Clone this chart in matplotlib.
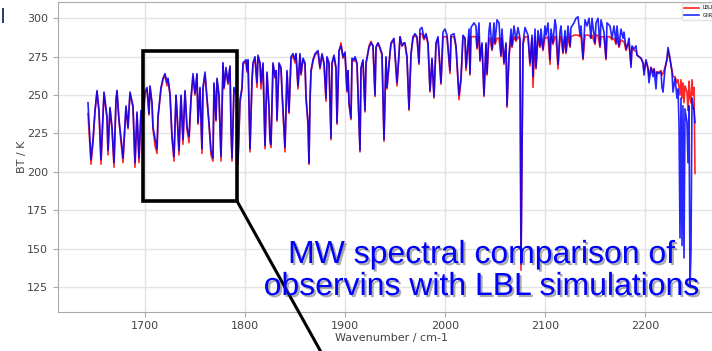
import matplotlib
matplotlib.use("Agg")
import matplotlib.pyplot as plt
import matplotlib.patheffects as pe
from matplotlib.patches import Rectangle
from matplotlib.lines import Line2D

# wavenumber grid (cm-1) and brightness temperatures (K)
wavenumber = [
    1643, 1646, 1648, 1650, 1652, 1654, 1656, 1659, 1662, 1663,
    1665, 1667, 1669, 1671, 1672, 1674, 1677, 1678, 1681, 1683,
    1685, 1688, 1690, 1692, 1694, 1696, 1698, 1700, 1702, 1704,
    1705, 1707, 1708, 1710, 1712, 1713, 1716, 1718, 1720, 1722,
    1723, 1725, 1727, 1729, 1731, 1732, 1734, 1736, 1738, 1740,
    1742, 1744, 1746, 1748, 1750, 1752, 1753, 1755, 1757, 1758,
    1760, 1762, 1764, 1766, 1768, 1769, 1771, 1772, 1774, 1776,
    1778, 1779, 1781, 1783, 1785, 1786, 1787, 1789, 1792, 1793,
    1795, 1797, 1798, 1801, 1802, 1803, 1805, 1807, 1808, 1810,
    1812, 1813, 1815, 1816, 1818, 1820, 1822, 1824, 1825, 1826,
    1828, 1830, 1831, 1832, 1834, 1836, 1837, 1840, 1842, 1844,
    1846, 1848, 1850, 1851, 1853, 1855, 1856, 1858, 1860, 1861,
    1863, 1864, 1865, 1866, 1868, 1870, 1873, 1875, 1877, 1879,
    1881, 1882, 1884, 1886, 1887, 1889, 1891, 1892, 1894, 1896,
    1898, 1900, 1902, 1903, 1904, 1906, 1907, 1909, 1910, 1912,
    1915, 1916, 1918, 1920, 1921, 1924, 1926, 1928, 1930, 1931,
    1933, 1935, 1937, 1939, 1941, 1942, 1945, 1946, 1949, 1950,
    1952, 1954, 1955, 1957, 1959, 1960, 1962, 1964, 1966, 1968,
    1970, 1972, 1974, 1975, 1977, 1979, 1981, 1983, 1985, 1987,
    1989, 1991, 1993, 1996, 1998, 2000, 2002, 2005, 2006, 2009,
    2011, 2014, 2016, 2018, 2020, 2021, 2024, 2025, 2026, 2029,
    2031, 2032, 2034, 2035, 2037, 2039, 2041, 2042, 2044, 2045,
    2047, 2049, 2050, 2052, 2054, 2056, 2057, 2059, 2061, 2062,
    2064, 2066, 2067, 2069, 2071, 2073, 2075, 2076, 2078, 2080,
    2083, 2085, 2087, 2088, 2090, 2091, 2093, 2095, 2096, 2098,
    2100, 2101, 2103, 2105, 2106, 2108, 2110, 2111, 2113, 2115,
    2116, 2118, 2120, 2121, 2123, 2125, 2126, 2129, 2131, 2133,
    2135, 2136, 2138, 2140, 2142, 2144, 2146, 2147, 2150, 2151,
    2153, 2155, 2156, 2159, 2161, 2162, 2165, 2167, 2169, 2171,
    2172, 2174, 2176, 2178, 2179, 2181, 2183, 2184, 2186, 2187,
    2189, 2191, 2192, 2194, 2196, 2198, 2199, 2201, 2203, 2204,
    2206, 2208, 2209, 2211, 2212, 2214, 2216, 2217, 2218, 2220,
    2222, 2223, 2225, 2227, 2228, 2230, 2232, 2233, 2234, 2235,
    2236, 2237, 2238, 2239, 2240, 2242, 2243, 2244, 2245, 2246,
    2247, 2248, 2249, 2250,
]

bt_giirs = [
    245, 208, 221, 240, 253, 240, 208, 252, 236, 214,
    242, 229, 206, 247, 253, 234, 216, 209, 243, 229,
    252, 243, 206, 239, 209, 240, 235, 252, 255, 238,
    256, 245, 229, 222, 215, 236, 255, 261, 264, 258,
    261, 251, 223, 210, 250, 239, 214, 250, 221, 253,
    229, 223, 248, 264, 251, 264, 232, 255, 215, 255,
    265, 248, 232, 214, 209, 258, 234, 261, 250, 210,
    271, 255, 268, 258, 269, 229, 209, 255, 250, 207,
    247, 255, 271, 273, 266, 273, 215, 260, 271, 275,
    258, 276, 271, 258, 271, 217, 265, 242, 221, 218,
    271, 262, 266, 234, 271, 268, 253, 216, 266, 239,
    275, 277, 273, 277, 256, 277, 264, 274, 271, 249,
    232, 206, 247, 266, 273, 277, 279, 268, 277, 271,
    248, 275, 271, 222, 271, 276, 268, 232, 279, 282,
    275, 278, 253, 266, 245, 235, 274, 273, 275, 271,
    214, 268, 273, 240, 271, 281, 284, 282, 250, 281,
    284, 281, 277, 221, 275, 255, 278, 284, 287, 277,
    258, 277, 288, 282, 284, 284, 275, 241, 277, 288,
    290, 288, 271, 293, 294, 287, 290, 284, 253, 274,
    249, 284, 288, 258, 291, 293, 289, 266, 289, 290,
    282, 250, 261, 289, 287, 268, 293, 264, 294, 297,
    295, 281, 297, 273, 284, 250, 284, 264, 292, 297,
    280, 297, 284, 299, 297, 276, 293, 271, 284, 243,
    276, 293, 282, 295, 286, 294, 287, 140, 284, 294,
    289, 271, 289, 262, 293, 268, 292, 282, 293, 280,
    295, 289, 297, 273, 293, 284, 299, 295, 270, 291,
    295, 278, 292, 278, 295, 282, 294, 297, 300, 301,
    289, 295, 274, 299, 295, 300, 287, 300, 284, 297,
    300, 282, 299, 291, 274, 297, 295, 287, 295, 284,
    295, 282, 293, 287, 291, 280, 284, 287, 268, 282,
    280, 282, 276, 275, 274, 271, 263, 273, 267, 258,
    268, 262, 267, 254, 265, 264, 265, 255, 252, 267,
    274, 281, 274, 265, 252, 261, 248, 254, 232, 157,
    248, 152, 243, 144, 241, 232, 206, 243, 125, 148,
    248, 243, 240, 232,
]

bt_lblrtm = [
    238, 205, 219, 239, 252, 239, 205, 251, 235, 211,
    241, 228, 203, 246, 252, 233, 213, 206, 242, 228,
    251, 242, 203, 238, 206, 239, 234, 251, 254, 237,
    255, 244, 228, 217, 212, 235, 254, 260, 263, 256,
    260, 250, 222, 207, 249, 238, 211, 249, 218, 252,
    228, 219, 247, 262, 250, 263, 231, 254, 212, 254,
    263, 247, 231, 211, 207, 257, 233, 260, 249, 207,
    269, 254, 266, 257, 268, 227, 207, 254, 249, 205,
    245, 254, 270, 272, 265, 272, 213, 259, 270, 274,
    255, 275, 270, 254, 270, 215, 264, 241, 219, 216,
    270, 261, 265, 233, 270, 267, 252, 213, 265, 238,
    273, 276, 271, 276, 254, 276, 263, 273, 270, 248,
    231, 205, 246, 265, 272, 276, 278, 267, 276, 270,
    246, 274, 270, 221, 270, 275, 267, 231, 278, 284,
    274, 277, 252, 265, 244, 234, 273, 272, 274, 270,
    213, 267, 272, 239, 270, 282, 285, 282, 249, 281,
    284, 280, 276, 220, 274, 254, 277, 283, 286, 276,
    256, 276, 288, 282, 284, 283, 274, 240, 276, 287,
    289, 287, 270, 290, 290, 286, 289, 283, 252, 273,
    248, 283, 287, 257, 288, 288, 288, 264, 288, 288,
    281, 247, 260, 288, 287, 266, 288, 263, 288, 288,
    288, 280, 288, 272, 283, 249, 283, 263, 287, 287,
    279, 287, 283, 287, 287, 275, 287, 270, 283, 242,
    275, 288, 281, 288, 285, 288, 286, 136, 283, 288,
    288, 269, 287, 255, 288, 267, 287, 281, 287, 279,
    288, 287, 288, 270, 288, 283, 288, 288, 267, 288,
    288, 277, 288, 277, 288, 281, 288, 289, 289, 289,
    288, 289, 273, 289, 289, 289, 287, 289, 283, 289,
    289, 281, 288, 288, 273, 288, 288, 286, 287, 283,
    287, 281, 286, 285, 285, 279, 283, 283, 270, 281,
    279, 279, 276, 275, 274, 271, 266, 272, 268, 262,
    268, 265, 267, 262, 265, 265, 266, 263, 264, 268,
    273, 279, 273, 266, 262, 262, 258, 260, 255, 250,
    260, 248, 258, 245, 256, 252, 240, 259, 248, 245,
    260, 250, 255, 199,
]

x_ticks = [1700, 1800, 1900, 2000, 2100, 2200]
y_ticks = [125, 150, 175, 200, 225, 250, 275, 300]
series_names = ["LBLRTM", "GIIRS"]
title_lines = ["MW spectral comparison of", "observins with LBL simulations"]

W, H = 712, 351
fig = plt.figure(figsize=(W / 100, H / 100), dpi=100)
# axes runs past the right edge, like the cropped screenshot
ax = fig.add_axes([58 / W, 1 - 311.5 / H, (725 - 58) / W, (311.5 - 2) / H])

ax.plot(wavenumber, bt_lblrtm, color="red", lw=1.2, alpha=0.85, label=series_names[0])
ax.plot(wavenumber, bt_giirs, color="blue", lw=1.2, alpha=0.85, label=series_names[1])

ax.set_xlim(1613, 2280)
ax.set_ylim(109.1, 310.6)
ax.set_xticks(x_ticks)
ax.set_yticks(y_ticks)
ax.grid(True, color="#e3e3e3", lw=1.0)
ax.set_axisbelow(True)
for s in ax.spines.values():
    s.set_color("#aaaaaa")
ax.tick_params(labelsize=8, colors="#444444", length=3.5, color="#aaaaaa")
ax.set_xlabel("Wavenumber / cm-1", fontsize=8, color="#444444", labelpad=1)
ax.set_ylabel("BT / K", fontsize=8, color="#444444", labelpad=0)

ax.legend(loc="upper right", fontsize=3.5, frameon=True, edgecolor="#dddddd",
          handlelength=3, borderaxespad=0.3)

# zoom box and pointer line drawn over the chart
fx = lambda px: px / W
fy = lambda py: 1 - py / H
fig.add_artist(Rectangle((fx(143), fy(201)), fx(237) - fx(143), fy(51) - fy(201),
                         transform=fig.transFigure, fill=False, ec="black", lw=2.6))
fig.add_artist(Line2D([fx(237), fx(321)], [fy(201), fy(352)],
                      transform=fig.transFigure, color="black", lw=2.2))
fig.add_artist(Line2D([fx(3), fx(3)], [fy(9), fy(22)],
                      transform=fig.transFigure, color="#2b3a6b", lw=1.4))

shadow = [pe.SimplePatchShadow(offset=(1.5, -1.5), shadow_rgbFace="0.35", alpha=0.5),
          pe.Normal()]
for i, line in enumerate(title_lines):
    fig.text(fx(482), fy(263 + 32 * i), line, ha="center", va="baseline",
             fontsize=23, color="#0000ff", family="Liberation Sans",
             path_effects=shadow)

fig.savefig("out.png", dpi=100)
